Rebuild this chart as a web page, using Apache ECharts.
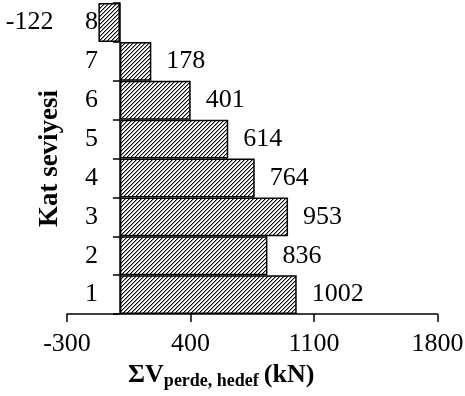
<!DOCTYPE html>
<html><head><meta charset="utf-8">
<script src="https://cdn.jsdelivr.net/npm/echarts@6/dist/echarts.min.js"></script>
<style>html,body{margin:0;padding:0;background:#fff}#c{width:465px;height:396px}</style>
</head><body><div id="c"></div>
<script>
const categories = ['1','2','3','4','5','6','7','8'];
const values = [1002, 836, 953, 764, 614, 401, 178, -122];
const xTicks = [-300, 400, 1100, 1800];

const FONT = 'Liberation Serif';
function hatch() {
  const s = 4;
  const c = document.createElement('canvas');
  c.width = s; c.height = s;
  const g = c.getContext('2d');
  g.fillStyle = '#fff'; g.fillRect(0,0,s,s);
  for (let i = 0; i < s; i++) {
    g.fillStyle = '#000'; g.fillRect(i, s-1-i, 1, 1);
    g.fillStyle = '#999'; g.fillRect(i, (s-i)%s, 1, 1);
  }
  return c;
}
const pat = {image: hatch(), repeat: 'repeat'};

const GL = 67, GR = 27.5, W = 465;
const xmin = xTicks[0], xmax = xTicks[xTicks.length-1];
const zeroOffset = (0 - xmin) / (xmax - xmin) * (W - GL - GR);

const chart = echarts.init(document.getElementById('c'), null, {renderer:'canvas'});
chart.setOption({
  animation: false,
  grid: {left: GL, right: GR, top: 3, bottom: 82, containLabel: false, outerBoundsMode: 'none'},
  xAxis: {
    type: 'value', min: xmin, max: xmax, interval: xTicks[1]-xTicks[0],
    splitLine: {show: false},
    axisLine: {show: true, lineStyle: {color: '#000', width: 1.5}},
    axisTick: {show: true, length: 8, lineStyle: {color: '#000', width: 1.5}},
    axisLabel: {color: '#000', fontFamily: FONT, fontSize: 26, margin: 17, formatter: v => String(v)},
    name: '{a|ΣV}{b|perde, hedef}{c|(kN)}',
    nameLocation: 'middle', nameGap: 43,
    nameTextStyle: {
      padding: [0, 62, 0, 0],
      rich: {
        a: {fontFamily: FONT, fontSize: 26, fontWeight: 'bold', color: '#000', lineHeight: 28, verticalAlign: 'top'},
        b: {fontFamily: FONT, fontSize: 18, fontWeight: 'bold', color: '#000', lineHeight: 18, verticalAlign: 'bottom', padding: [0, 5, 0, 0]},
        c: {fontFamily: FONT, fontSize: 26, fontWeight: 'bold', color: '#000', lineHeight: 28, verticalAlign: 'top'}
      }
    }
  },
  yAxis: {
    type: 'category', data: categories,
    offset: -zeroOffset,
    axisLine: {show: true, onZero: false, lineStyle: {color: '#000', width: 1.5}},
    axisTick: {show: true, length: 7, lineStyle: {color: '#000', width: 1.5}},
    axisLabel: {color: '#000', fontFamily: FONT, fontSize: 26, margin: 22},
    name: 'Kat seviyesi', nameLocation: 'middle', nameGap: 56, nameRotate: 90,
    nameTextStyle: {fontFamily: FONT, fontSize: 27, fontWeight: 'bold', color: '#000'}
  },
  series: [{
    type: 'bar',
    data: values.map(v => v < 0 ? {value: v, label: {position: 'left', distance: 45}} : v),
    barCategoryGap: '0%',
    itemStyle: {color: pat, borderColor: '#000', borderWidth: 1.5},
    label: {show: true, position: 'right', distance: 15, color: '#000', fontFamily: FONT, fontSize: 26}
  }]
});
</script></body></html>
